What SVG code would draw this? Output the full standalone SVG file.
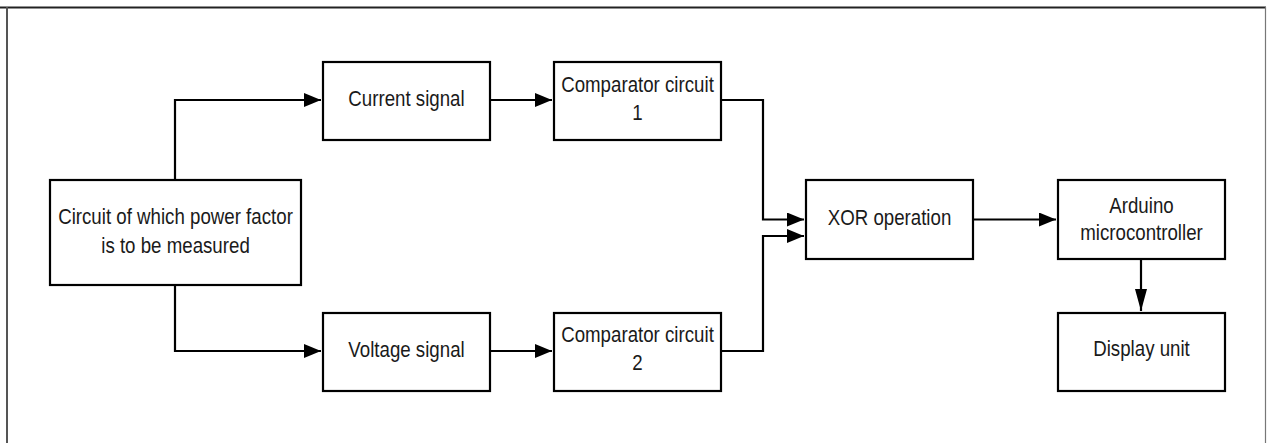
<svg xmlns="http://www.w3.org/2000/svg" width="1267" height="443" viewBox="0 0 1267 443">
  <style>
    .box { fill: #ffffff; stroke: #000000; stroke-width: 2.2; }
    .wire { fill: none; stroke: #000000; stroke-width: 2.2; }
    .lbl { font-family: "Liberation Sans", Arial, sans-serif; font-size: 18.7px; fill: #1a1a1a; text-anchor: middle; }
  </style>
  <defs>
    <marker id="arrowH" markerUnits="userSpaceOnUse" markerWidth="18" markerHeight="14" refX="17" refY="7" orient="auto" viewBox="0 0 18 14">
      <path d="M0,0 L17,7 L0,14 Z" fill="#000000"/>
    </marker>
    <marker id="arrowV" markerUnits="userSpaceOnUse" markerWidth="23" markerHeight="12" refX="22" refY="6" orient="auto" viewBox="0 0 23 12">
      <path d="M0,0 L22,6 L0,12 Z" fill="#000000"/>
    </marker>
  </defs>
  <rect x="0" y="0" width="1267" height="443" fill="#ffffff"/>
  <g id="frame">
    <line x1="0" y1="7.5" x2="1266" y2="7.5" stroke="#222222" stroke-width="2"/>
    <line x1="7" y1="7" x2="7" y2="443" stroke="#555555" stroke-width="2"/>
    <line x1="1265.5" y1="7" x2="1265.5" y2="443" stroke="#777777" stroke-width="1.2"/>
  </g>
  <g id="connectors">
    <path class="wire" d="M175,180 V100 H321" marker-end="url(#arrowH)"/>
    <path class="wire" d="M175,285 V351 H321" marker-end="url(#arrowH)"/>
    <path class="wire" d="M490,100 H552" marker-end="url(#arrowH)"/>
    <path class="wire" d="M490,351 H552" marker-end="url(#arrowH)"/>
    <path class="wire" d="M721,100 H763 V219.5 H804" marker-end="url(#arrowH)"/>
    <path class="wire" d="M721,351 H763 V236 H804" marker-end="url(#arrowH)"/>
    <path class="wire" d="M973,219.5 H1056" marker-end="url(#arrowH)"/>
    <path class="wire" d="M1141,259 V311" marker-end="url(#arrowV)"/>
  </g>
  <g id="node-circuit">
    <rect class="box" x="50" y="180" width="251" height="105"/>
    <text class="lbl" transform="translate(175.5,224.3) scale(1,1.2)">Circuit of which power factor</text>
    <text class="lbl" transform="translate(175.5,253.3) scale(1,1.2)">is to be measured</text>
  </g>
  <g id="node-current">
    <rect class="box" x="323" y="62" width="167" height="78"/>
    <text class="lbl" transform="translate(406.5,106) scale(1,1.2)">Current signal</text>
  </g>
  <g id="node-voltage">
    <rect class="box" x="323" y="313" width="167" height="78"/>
    <text class="lbl" transform="translate(406.5,356.7) scale(1,1.2)">Voltage signal</text>
  </g>
  <g id="node-comp1">
    <rect class="box" x="554" y="62" width="167" height="78"/>
    <text class="lbl" transform="translate(637.5,91.7) scale(1,1.2)">Comparator circuit</text>
    <text class="lbl" transform="translate(637.5,120) scale(1,1.2)">1</text>
  </g>
  <g id="node-comp2">
    <rect class="box" x="554" y="313" width="167" height="78"/>
    <text class="lbl" transform="translate(637.5,341.7) scale(1,1.2)">Comparator circuit</text>
    <text class="lbl" transform="translate(637.5,370) scale(1,1.2)">2</text>
  </g>
  <g id="node-xor">
    <rect class="box" x="806" y="180" width="167" height="79"/>
    <text class="lbl" transform="translate(889.5,225) scale(1,1.2)">XOR operation</text>
  </g>
  <g id="node-arduino">
    <rect class="box" x="1058" y="180" width="167" height="79"/>
    <text class="lbl" transform="translate(1141.5,213.3) scale(1,1.2)">Arduino</text>
    <text class="lbl" transform="translate(1141.5,240) scale(1,1.2)">microcontroller</text>
  </g>
  <g id="node-display">
    <rect class="box" x="1058" y="313" width="167" height="78"/>
    <text class="lbl" transform="translate(1141.5,356) scale(1,1.2)">Display unit</text>
  </g>
</svg>
